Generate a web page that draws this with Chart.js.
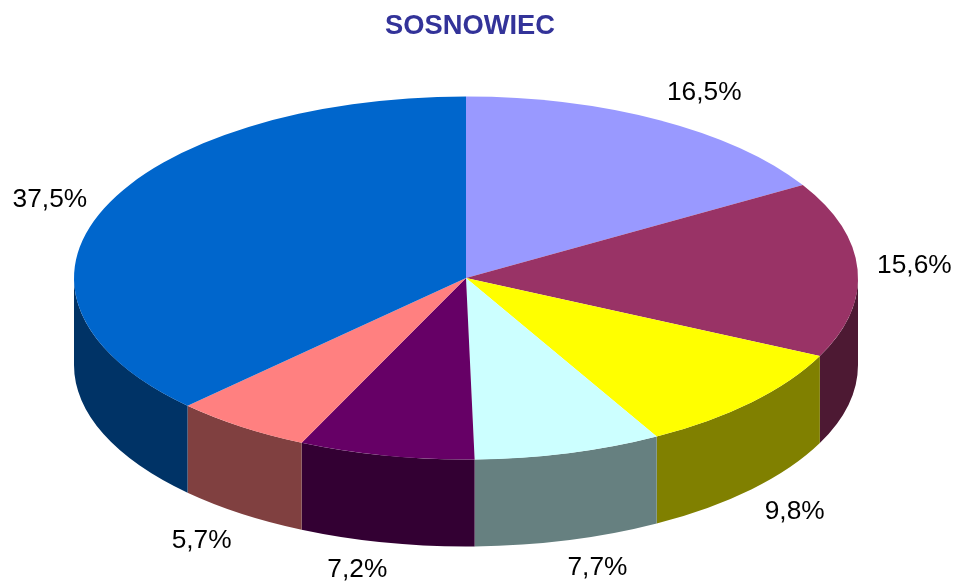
<!DOCTYPE html>
<html>
<head>
<meta charset="utf-8">
<title>SOSNOWIEC</title>
<script src="https://cdn.jsdelivr.net/npm/chart.js@4"></script>
<style>
    html, body { margin: 0; padding: 0; background: #fff; }
    canvas { display: block; }
</style>
</head>
<body>
<canvas id="pie-chart" width="955" height="581"></canvas>
<script>
const TITLE = "SOSNOWIEC";
const CATEGORIES = ["A", "B", "C", "D", "E", "F", "G"];
// second decimal read from the slice edges, labels show one decimal
const VALUES = [16.46, 15.64, 9.84, 7.74, 7.24, 5.69, 37.451];

const TOP_COLORS = ["#9999ff", "#993366", "#ffff00", "#ccffff", "#660066", "#ff8080", "#0066cc"];
const SIDE_COLORS = ["#4d4d80", "#4d1933", "#808000", "#668080", "#330033", "#804040", "#003366"];

// how far out each label sits, as a share of the ellipse radii
const LABEL_FACTOR_X = [1.23, 1.145, 1.15, 1.28, 1.36, 1.175, 1.15];
const LABEL_FACTOR_Y = [1.187, 1.75, 1.163, 1.148, 1.14, 1.168, 1.15];

const PIE_X = 466;
const PIE_Y = 278;
const RADIUS = 392;
const TILT = 0.463;
const DEPTH = 87;
const LABEL_SHIFT = 2;

const formatPercent = (v) => `${v.toFixed(1).replace(".", ",")}%`;

const tiltedPie = {
    id: "tiltedPie",
    beforeDatasetDraw(chart, args) {
        const ctx = chart.ctx;
        const arcs = args.meta.data;
        const ry = RADIUS * TILT;

        // side wall: only the part of each slice on the front half of the rim
        arcs.forEach((arc, i) => {
            const start = Math.max(arc.startAngle, 0);
            const end = Math.min(arc.endAngle, Math.PI);
            if (end <= start) return;
            ctx.fillStyle = SIDE_COLORS[i];
            ctx.beginPath();
            ctx.ellipse(PIE_X, PIE_Y, arc.outerRadius, ry, 0, start, end);
            ctx.ellipse(PIE_X, PIE_Y + DEPTH, arc.outerRadius, ry, 0, end, start, true);
            ctx.closePath();
            ctx.fill();
        });

        ctx.save();
        ctx.translate(PIE_X, PIE_Y);
        ctx.scale(1, TILT);
        ctx.translate(-arcs[0].x, -arcs[0].y);
    },
    afterDatasetDraw(chart, args) {
        const ctx = chart.ctx;
        ctx.restore();

        ctx.fillStyle = "#000";
        ctx.font = "26.3px 'Liberation Sans'";
        ctx.textAlign = "center";
        ctx.textBaseline = "middle";
        args.meta.data.forEach((arc, i) => {
            const mid = (arc.startAngle + arc.endAngle) / 2;
            const x = PIE_X + Math.cos(mid) * arc.outerRadius * LABEL_FACTOR_X[i];
            let y = PIE_Y + Math.sin(mid) * arc.outerRadius * TILT * LABEL_FACTOR_Y[i];
            if (Math.sin(mid) > 0) y += DEPTH;
            ctx.fillText(formatPercent(VALUES[i]), x, y + LABEL_SHIFT);
        });
    },
};

new Chart(document.getElementById("pie-chart").getContext("2d"), {
    type: "pie",
    data: {
        labels: CATEGORIES,
        datasets: [{
            data: VALUES,
            backgroundColor: TOP_COLORS,
            borderWidth: 0,
            radius: RADIUS,
            clip: false,
        }],
    },
    options: {
        responsive: false,
        animation: false,
        layout: { padding: { right: 15 } },
        plugins: {
            legend: { display: false },
            tooltip: { enabled: false },
            title: {
                display: true,
                text: TITLE,
                color: "#333399",
                fullSize: false,
                font: { family: "'Liberation Sans'", size: 27.3, weight: "bold" },
                padding: { top: 10, bottom: 8 },
            },
        },
    },
    plugins: [tiltedPie],
});
</script>
</body>
</html>
